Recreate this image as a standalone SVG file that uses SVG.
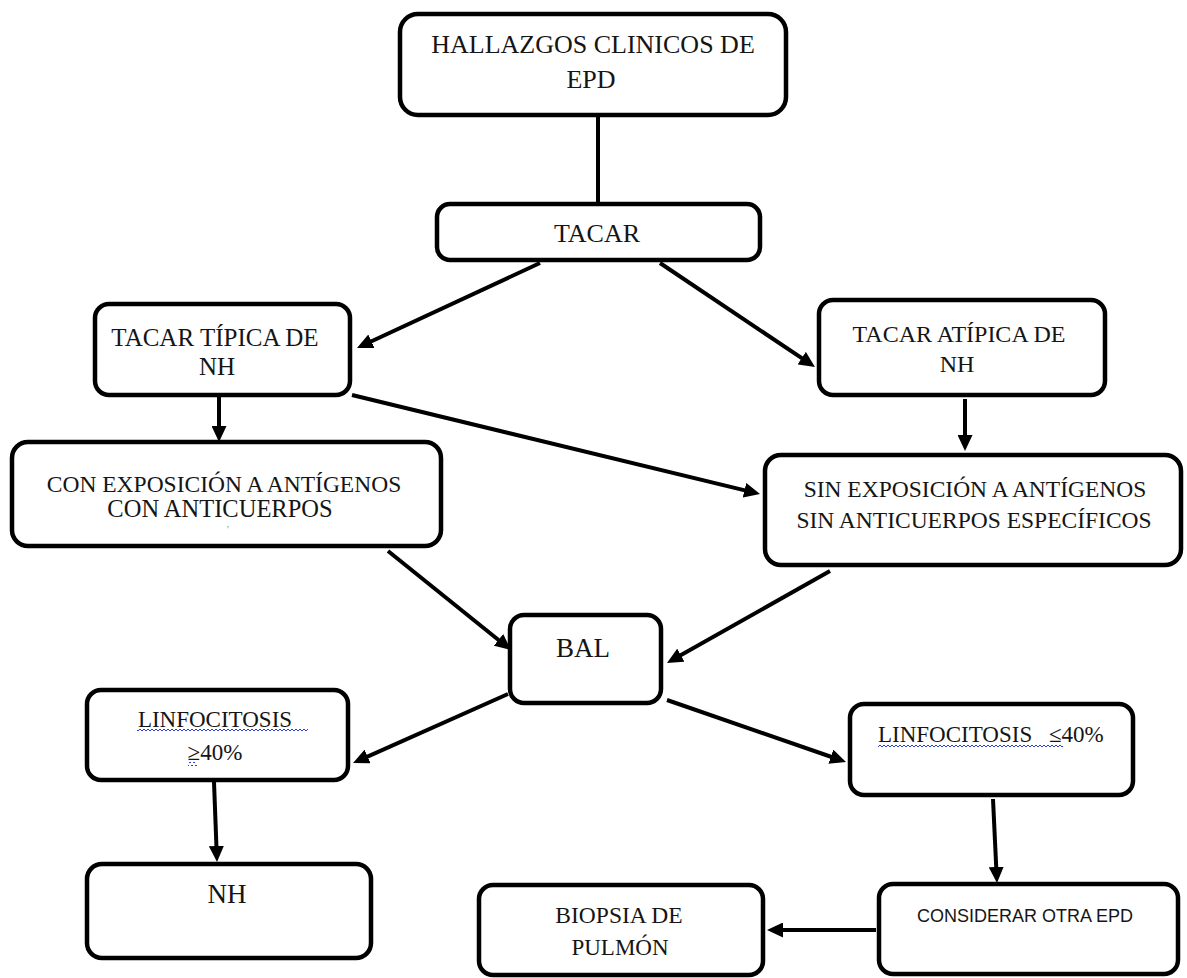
<svg xmlns="http://www.w3.org/2000/svg" width="1187" height="978" viewBox="0 0 1187 978">
<defs>
<style>
.box{fill:#fff;stroke:#000;stroke-width:4.5}
.c{stroke:#000;stroke-width:4;fill:none}
.a{marker-end:url(#ah)}
.serif{font-family:'Liberation Serif','Times New Roman',serif}
</style>
<marker id="ah" markerUnits="userSpaceOnUse" viewBox="0 0 16 15" markerWidth="16" markerHeight="15" refX="10" refY="7.5" orient="auto">
<path d="M0,0 L16,7.5 L0,15 z" fill="#000"/>
</marker>
<pattern id="wave" patternUnits="userSpaceOnUse" width="4" height="4">
<path d="M0,1 L2,3 L4,1" fill="none" stroke="#2b3fd6" stroke-width="1"/>
</pattern>
</defs>
<rect width="1187" height="978" fill="#fff"/>
<g id="connectors">
<line class="c" x1="598" y1="117" x2="598" y2="202"/>
<line class="c a" x1="540" y1="263" x2="362.4" y2="345.5"/>
<line class="c a" x1="660" y1="263" x2="810" y2="363.7"/>
<line class="c a" x1="219" y1="397" x2="219" y2="436"/>
<line class="c a" x1="965" y1="399" x2="965" y2="445"/>
<line class="c a" x1="352" y1="395" x2="754.2" y2="492.6"/>
<line class="c a" x1="388" y1="551" x2="506.3" y2="646.2"/>
<line class="c a" x1="830" y1="571" x2="672.2" y2="660.1"/>
<line class="c a" x1="508" y1="694" x2="358.5" y2="760.6"/>
<line class="c a" x1="667" y1="700" x2="840.3" y2="760"/>
<line class="c a" x1="214" y1="782" x2="216.8" y2="856"/>
<line class="c a" x1="993" y1="799" x2="996.7" y2="877"/>
<line class="c a" x1="876" y1="930" x2="773" y2="930"/>
</g>
<g class="serif" fill="#151515" text-anchor="middle">
<g id="n-hallazgos">
<rect class="box" x="400" y="14" width="386" height="101" rx="18"/>
<text x="593" y="53" font-size="26">HALLAZGOS CLINICOS DE</text>
<text x="591" y="88" font-size="26">EPD</text>
</g>
<g id="n-tacar">
<rect class="box" x="437" y="204" width="323" height="56" rx="13"/>
<text x="597" y="242" font-size="26">TACAR</text>
</g>
<g id="n-tipica">
<rect class="box" x="95" y="304" width="255" height="91" rx="14"/>
<text x="215" y="346" font-size="25">TACAR TÍPICA DE</text>
<text x="217" y="375" font-size="25">NH</text>
</g>
<g id="n-atipica">
<rect class="box" x="819" y="300" width="286" height="95" rx="14"/>
<text x="959" y="342" font-size="24">TACAR  ATÍPICA DE</text>
<text x="957" y="372" font-size="24">NH</text>
</g>
<g id="n-con">
<rect class="box" x="12" y="442" width="429" height="104" rx="16"/>
<text x="224" y="492" font-size="23.5">CON EXPOSICIÓN A ANTÍGENOS</text>
<text x="220" y="517" font-size="24.5">CON ANTICUERPOS</text>
<text x="228" y="533" font-size="10" fill="#888">'</text>
</g>
<g id="n-sin">
<rect class="box" x="765" y="455" width="416" height="110" rx="16"/>
<text x="975" y="497" font-size="23.5">SIN EXPOSICIÓN A ANTÍGENOS</text>
<text x="974" y="528" font-size="23.5">SIN ANTICUERPOS ESPECÍFICOS</text>
</g>
<g id="n-bal">
<rect class="box" x="510" y="615" width="151" height="88" rx="14"/>
<text x="583" y="657" font-size="27">BAL</text>
</g>
<g id="n-linfo-mayor">
<rect class="box" x="87" y="690" width="261" height="90" rx="14"/>
<rect x="137" y="728" width="171" height="4" fill="url(#wave)"/>
<rect x="188" y="762" width="9" height="4" fill="url(#wave)"/>
<text x="215" y="727" font-size="23">LINFOCITOSIS</text>
<text x="215" y="760" font-size="23">≥40%</text>
</g>
<g id="n-linfo-menor">
<rect class="box" x="850" y="704" width="283" height="91" rx="14"/>
<rect x="878" y="743" width="185" height="4" fill="url(#wave)"/>
<text x="878" y="742" font-size="23" text-anchor="start">LINFOCITOSIS</text>
<text x="1049" y="742" font-size="23" text-anchor="start">≤40%</text>
</g>
<g id="n-nh">
<rect class="box" x="87" y="864" width="284" height="94" rx="15"/>
<text x="227" y="903" font-size="27">NH</text>
</g>
<g id="n-biopsia">
<rect class="box" x="479" y="885" width="284" height="90" rx="14"/>
<text x="619" y="923" font-size="23.5">BIOPSIA DE</text>
<text x="620" y="955" font-size="23">PULMÓN</text>
</g>
<g id="n-considerar">
<rect class="box" x="879" y="884" width="299" height="90" rx="14"/>
<text x="1025" y="922" font-size="18" style="font-family:'Liberation Sans',Arial,sans-serif">CONSIDERAR OTRA EPD</text>
</g>
</g>
</svg>
